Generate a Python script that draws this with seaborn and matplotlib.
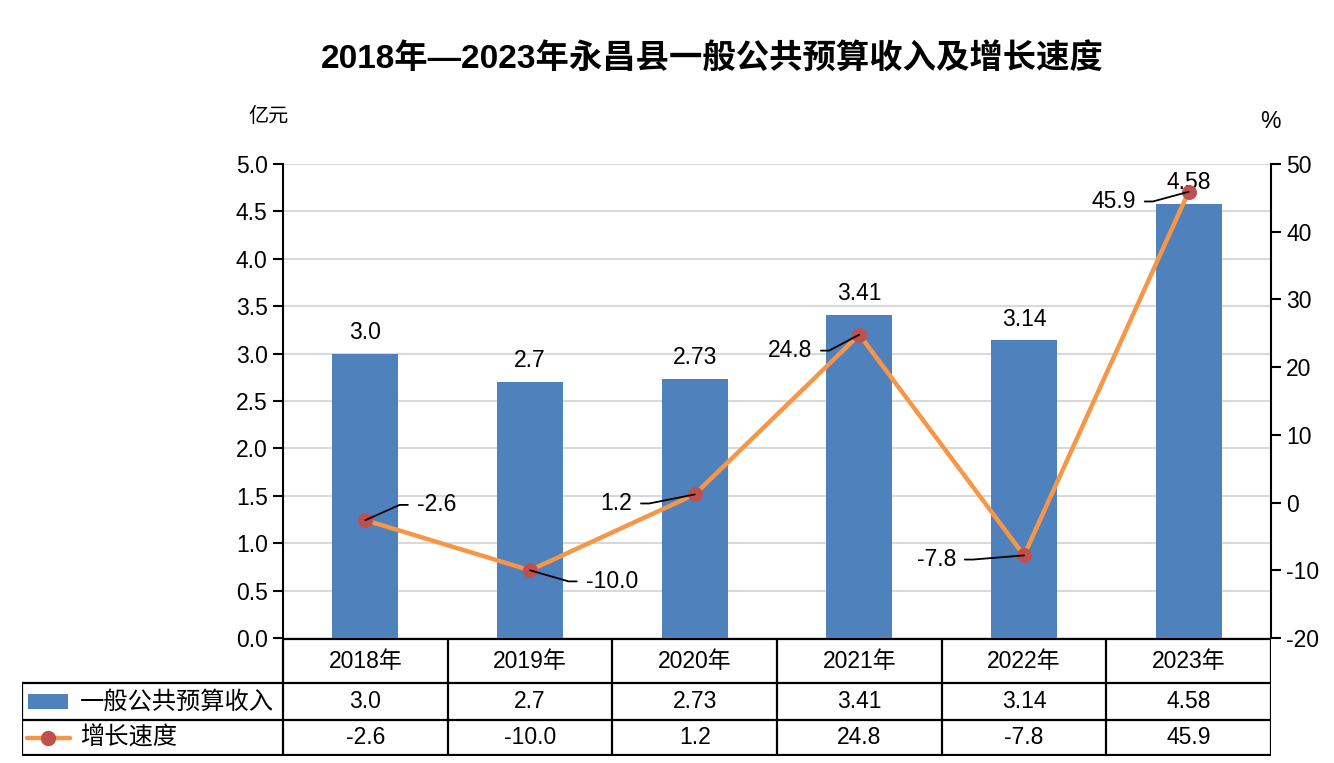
import matplotlib
matplotlib.use("Agg")
import matplotlib.pyplot as plt
from matplotlib.patches import Rectangle
from matplotlib.lines import Line2D
import seaborn as sns
import numpy as np
import pandas as pd

# 数据
years = ["2018年", "2019年", "2020年", "2021年", "2022年", "2023年"]
income = [3.0, 2.7, 2.73, 3.41, 3.14, 4.58]
growth = [-2.6, -10.0, 1.2, 24.8, -7.8, 45.9]
income_name = "一般公共预算收入"
growth_name = "增长速度"
title = "2018年—2023年永昌县一般公共预算收入及增长速度"

BAR_C = "#4F81BD"
LINE_C = "#F79646"
MARK_C = "#C0504D"
FS = 16.5

sns.set_theme(style="white")
plt.rcParams['font.family'] = ['Liberation Sans', 'Noto Sans CJK SC', 'DejaVu Sans']
plt.rcParams['axes.unicode_minus'] = False
plt.rcParams['text.color'] = 'black'
plt.rcParams['ytick.color'] = 'black'
plt.rcParams['xtick.color'] = 'black'

W, H = 1334, 763
fig = plt.figure(figsize=(W / 100, H / 100), dpi=100)

# 主图区域 (像素 -> 比例)
L, R, T, B = 283, 1271, 164, 638
ax = fig.add_axes([L / W, 1 - B / H, (R - L) / W, (B - T) / H])

df = pd.DataFrame({"year": years, "income": income, "growth": growth})
df["pos"] = np.arange(len(df))

sns.barplot(data=df, x="pos", y="income", color=BAR_C, width=0.4,
            saturation=1, ax=ax, native_scale=True, linewidth=0)
ax.set_xlim(-0.5, len(df) - 0.5)
ax.set_ylim(0, 5.0)
ax.set_yticks(np.arange(0, 5.01, 0.5))
ax.set_yticklabels([f"{v:.1f}" for v in np.arange(0, 5.01, 0.5)], fontsize=FS)
ax.set_xticks([])
ax.set_xlabel("")
ax.set_ylabel("")
ax.yaxis.grid(True, color="#D9D9D9", lw=1.5)
ax.set_axisbelow(True)
for s in ["top", "right", "bottom"]:
    ax.spines[s].set_visible(False)
ax.spines["left"].set_color("black")
ax.spines["left"].set_linewidth(1.5)
ax.tick_params(axis="y", left=True, direction="out", length=7, width=1.5,
               color="black", pad=4)
ax.bar_label(ax.containers[0], labels=[str(v) for v in income],
             padding=7, fontsize=FS)

# 右轴 增长速度
ax2 = ax.twinx()
sns.lineplot(data=df, x="pos", y="growth", ax=ax2, color=LINE_C, lw=3.2,
             marker="o", markersize=10, markerfacecolor=MARK_C,
             markeredgecolor=MARK_C, zorder=5)
ax2.set_ylim(-20, 50)
ax2.set_yticks(range(-20, 51, 10))
ax2.set_yticklabels([str(v) for v in range(-20, 51, 10)], fontsize=FS)
ax2.set_xlabel("")
ax2.set_ylabel("")
ax2.grid(False)
for s in ["top", "left", "bottom"]:
    ax2.spines[s].set_visible(False)
ax2.spines["right"].set_color("black")
ax2.spines["right"].set_linewidth(1.5)
ax2.tick_params(axis="y", right=True, direction="out", length=7, width=1.5,
                color="black", pad=4)
ax2.set_xlim(-0.5, len(df) - 0.5)

# 数据标签与引线 (偏移单位: points)
offsets = [(37, 11), (40, -8), (-45, -6.5), (-34, -11.5), (-49, -3), (-38, -7)]
for i, (v, (dx, dy)) in enumerate(zip(growth, offsets)):
    right_side = dx > 0
    ax2.annotate(str(v), xy=(i, v), xytext=(dx, dy), textcoords="offset points",
                 ha="left" if right_side else "right", va="center", fontsize=FS,
                 zorder=6,
                 arrowprops=dict(arrowstyle="-", color="black", lw=1.3,
                                 shrinkA=4, shrinkB=0,
                                 relpos=(0, 0.5) if right_side else (1, 0.5),
                                 connectionstyle=f"arc,angleA={180 if right_side else 0},"
                                                 f"armA=17,angleB=0,armB=0,rad=0"))

# 标题与单位
fig.text(712 / W, 1 - 60 / H, title, ha="center", va="center",
         fontsize=24, fontweight="bold")
fig.text(269 / W, 1 - 116 / H, "亿元", ha="center", va="center", fontsize=14.5,
         family=['Noto Sans CJK SC'])
fig.text(1270 / W, 1 - 122 / H, "%", ha="center", va="center", fontsize=FS)

# 底部数据表
TL, TB = 22, 756
tax = fig.add_axes([TL / W, 1 - TB / H, (R - TL) / W, (TB - B) / H])
unit = (R - L) / len(df)
x_left = -0.5 - (L - TL) / unit
tax.set_xlim(x_left, len(df) - 0.5)
tax.set_ylim(TB, B)
tax.axis("off")

rows = [B + 1, 683, 720, TB - 1]
lk = dict(color="black", lw=1.6, solid_capstyle="projecting")
tax.plot([-0.5, len(df) - 0.5], [rows[0], rows[0]], **lk)
for yv in rows[1:]:
    tax.plot([x_left, len(df) - 0.5], [yv, yv], **lk)
for i in range(len(df) + 1):
    tax.plot([i - 0.5, i - 0.5], [rows[0], rows[-1]], **lk)
tax.plot([x_left, x_left], [rows[1], rows[-1]], **lk)

mid = [(rows[k] + rows[k + 1]) / 2 for k in range(3)]
for i in range(len(df)):
    tax.text(i, mid[0], years[i], ha="center", va="center", fontsize=FS)
    tax.text(i, mid[1], str(income[i]), ha="center", va="center", fontsize=FS)
    tax.text(i, mid[2], str(growth[i]), ha="center", va="center", fontsize=FS)

# 图例
px = 1 / unit
tax.add_patch(Rectangle((x_left + 6 * px, mid[1] - 7.5), 40 * px, 15,
                        color=BAR_C, lw=0))
tax.add_line(Line2D([x_left + 5 * px, x_left + 48 * px], [mid[2], mid[2]],
                    color=LINE_C, lw=3.2))
tax.plot([x_left + 26 * px], [mid[2]], marker="o", markersize=10, color=MARK_C)
tax.text(x_left + 58 * px, mid[1], income_name, ha="left", va="center",
         fontsize=17.5, family=['Noto Sans CJK SC'])
tax.text(x_left + 58 * px, mid[2], growth_name, ha="left", va="center",
         fontsize=17.5, family=['Noto Sans CJK SC'])

fig.savefig("out.png", dpi=100)
